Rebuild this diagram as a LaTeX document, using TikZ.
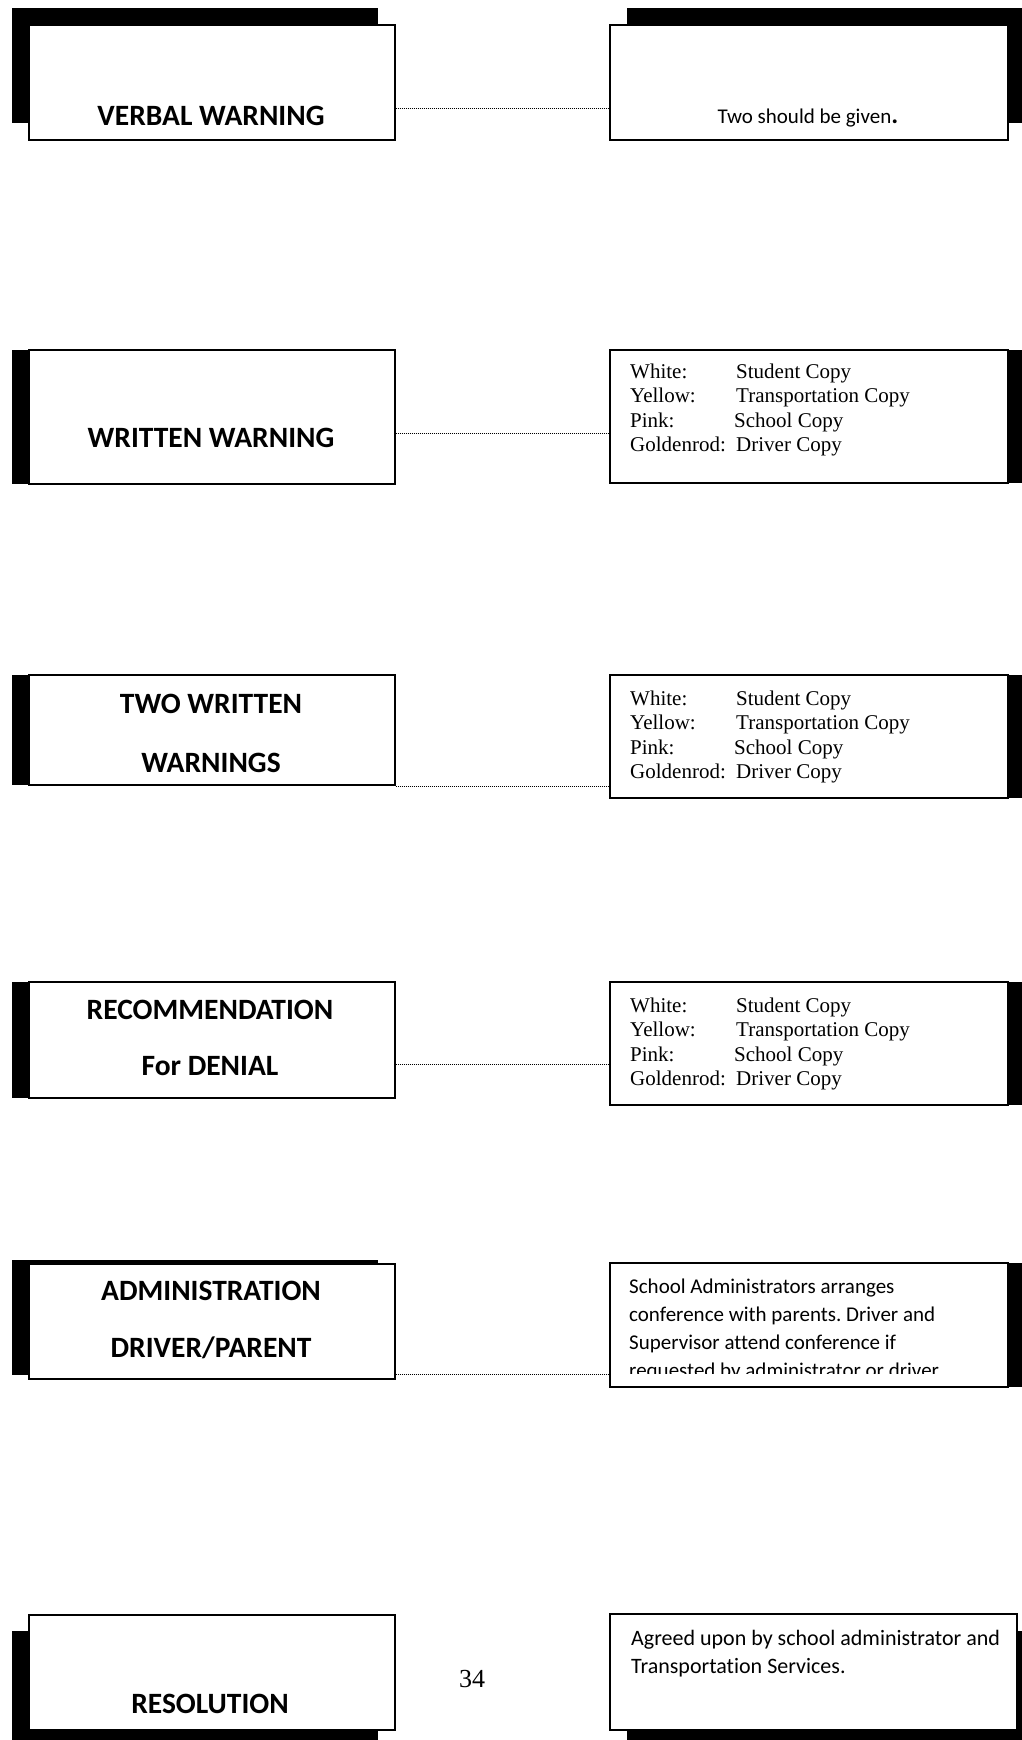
\documentclass[tikz,border=0pt]{standalone}
\usepackage{fontspec}
\setmainfont{Carlito}[Ligatures=NoCommon]
\newfontfamily\timesfont{Liberation Serif}
\usepackage{tikz}
\usetikzlibrary{shadows}
\frenchspacing

\newcommand{\slipcopies}{\begin{tabular}[t]{@{}l@{}}
\makebox[106bp][l]{White:}Student Copy\\
\makebox[106bp][l]{Yellow:}Transportation Copy\\
\makebox[104bp][l]{Pink:}School Copy\\
\makebox[106bp][l]{Goldenrod:}Driver Copy
\end{tabular}}

\begin{document}
\begin{tikzpicture}[
    x=1bp, y=-1bp,
    lbox/.style={rectangle, draw, fill=white, line width=1.5bp, anchor=north west, inner sep=0pt, minimum width=366bp},
    rbox/.style={rectangle, draw, fill=white, line width=1.5bp, anchor=north west, inner sep=0pt, minimum width=398bp},
    backing/.style 2 args={drop shadow={shadow xshift=#1, shadow yshift=#2, fill=black, opacity=1}},
    title/.style={font=\fontsize{29.5bp}{57bp}\selectfont\bfseries, anchor=base, inner sep=0pt},
    copylist/.style={font=\timesfont\fontsize{21bp}{24.5bp}\selectfont, anchor=base west, inner sep=0pt},
    note/.style={font=\fontsize{21bp}{28bp}\selectfont, anchor=base west, inner sep=0pt},
    dotline/.style={line width=0.9bp, dash pattern=on 1bp off 1bp}
]
\useasboundingbox (0,0) rectangle (1021,1740);

% Boxes
\node[lbox, minimum height=115bp, backing={-17bp}{17bp}] (verbal) at (28,24) {};
\node[rbox, minimum height=115bp, backing={17bp}{17bp}] (given) at (609,24) {};
\node[lbox, minimum height=134bp, backing={-17bp}{0bp}] (written) at (28,349) {};
\node[rbox, minimum height=133bp, backing={17bp}{0bp}] (copiesA) at (609,349) {};
\node[lbox, minimum height=110bp, backing={-17bp}{0bp}] (twowritten) at (28,674) {};
\node[rbox, minimum height=123bp, backing={17bp}{0bp}] (copiesB) at (609,674) {};
\node[lbox, minimum height=116bp, backing={-17bp}{0bp}] (denial) at (28,981) {};
\node[rbox, minimum height=123bp, backing={17bp}{0bp}] (copiesC) at (609,981) {};
\node[lbox, minimum height=115bp, backing={-17bp}{4bp}] (admin) at (28,1263) {};
\node[rbox, minimum height=124bp, backing={17bp}{0bp}] (conference) at (609,1262) {};
\node[lbox, minimum height=115bp, backing={-17bp}{-16bp}] (resolution) at (28,1614) {};
\node[rbox, minimum height=116bp, minimum width=407bp, backing={17bp}{-17bp}] (agreed) at (609,1613) {};

% Texts
\node[title] (verbal-t) at (211,125) {VERBAL WARNING};
\node[note, anchor=base] (given-t) at (808,123) {Two should be given{\bfseries\fontsize{26bp}{26bp}\selectfont.}};
\node[title] (written-t) at (211,447) {WRITTEN WARNING};
\node[copylist] (copiesA-t) at (630,378) {\slipcopies};
\node[title] (twowritten-t) at (211,713) {\begin{tabular}[t]{@{}c@{}}TWO WRITTEN\\[2bp]WARNINGS\end{tabular}};
\node[copylist] (copiesB-t) at (630,705) {\slipcopies};
\node[title] (denial-t) at (210,1019) {\begin{tabular}[t]{@{}c@{}}RECOMMENDATION\\[-1bp]For DENIAL\end{tabular}};
\node[copylist] (copiesC-t) at (630,1012) {\slipcopies};
\node[title] (admin-t) at (211,1300) {\begin{tabular}[t]{@{}c@{}}ADMINISTRATION\\DRIVER/PARENT\end{tabular}};
\begin{scope}
\clip (609,1262) rectangle (1007,1373);
\node[note] (conference-t) at (629,1293) {\begin{tabular}[t]{@{}l@{}}School Administrators arranges\\conference with parents. Driver and\\Supervisor attend conference if\\requested by administrator or driver.\end{tabular}};
\end{scope}
\node[title] (resolution-t) at (210,1713) {RESOLUTION};
\node[note, font=\fontsize{22bp}{28bp}\selectfont] (agreed-t) at (631,1645) {\begin{tabular}[t]{@{}l@{}}Agreed upon by school administrator and\\Transportation Services.\end{tabular}};
\node[font=\timesfont\fontsize{26bp}{26bp}\selectfont, anchor=base, inner sep=0pt] (pagenum) at (472,1687) {34};

% Dotted connectors
\coordinate (d1) at ([yshift=-26.5bp]verbal.east);
\coordinate (d2) at ([yshift=-17bp]written.east);
\coordinate (d3) at ([yshift=-1bp]twowritten.south east);
\coordinate (d4) at ([yshift=-25bp]denial.east);
\coordinate (d5) at ([yshift=5bp]admin.south east);
\draw[dotline] (d1) -- (d1 -| given.west);
\draw[dotline] (d2) -- (d2 -| copiesA.west);
\draw[dotline] (d3) -- (d3 -| copiesB.west);
\draw[dotline] (d4) -- (d4 -| copiesC.west);
\draw[dotline] (d5) -- (d5 -| conference.west);

\end{tikzpicture}
\end{document}
